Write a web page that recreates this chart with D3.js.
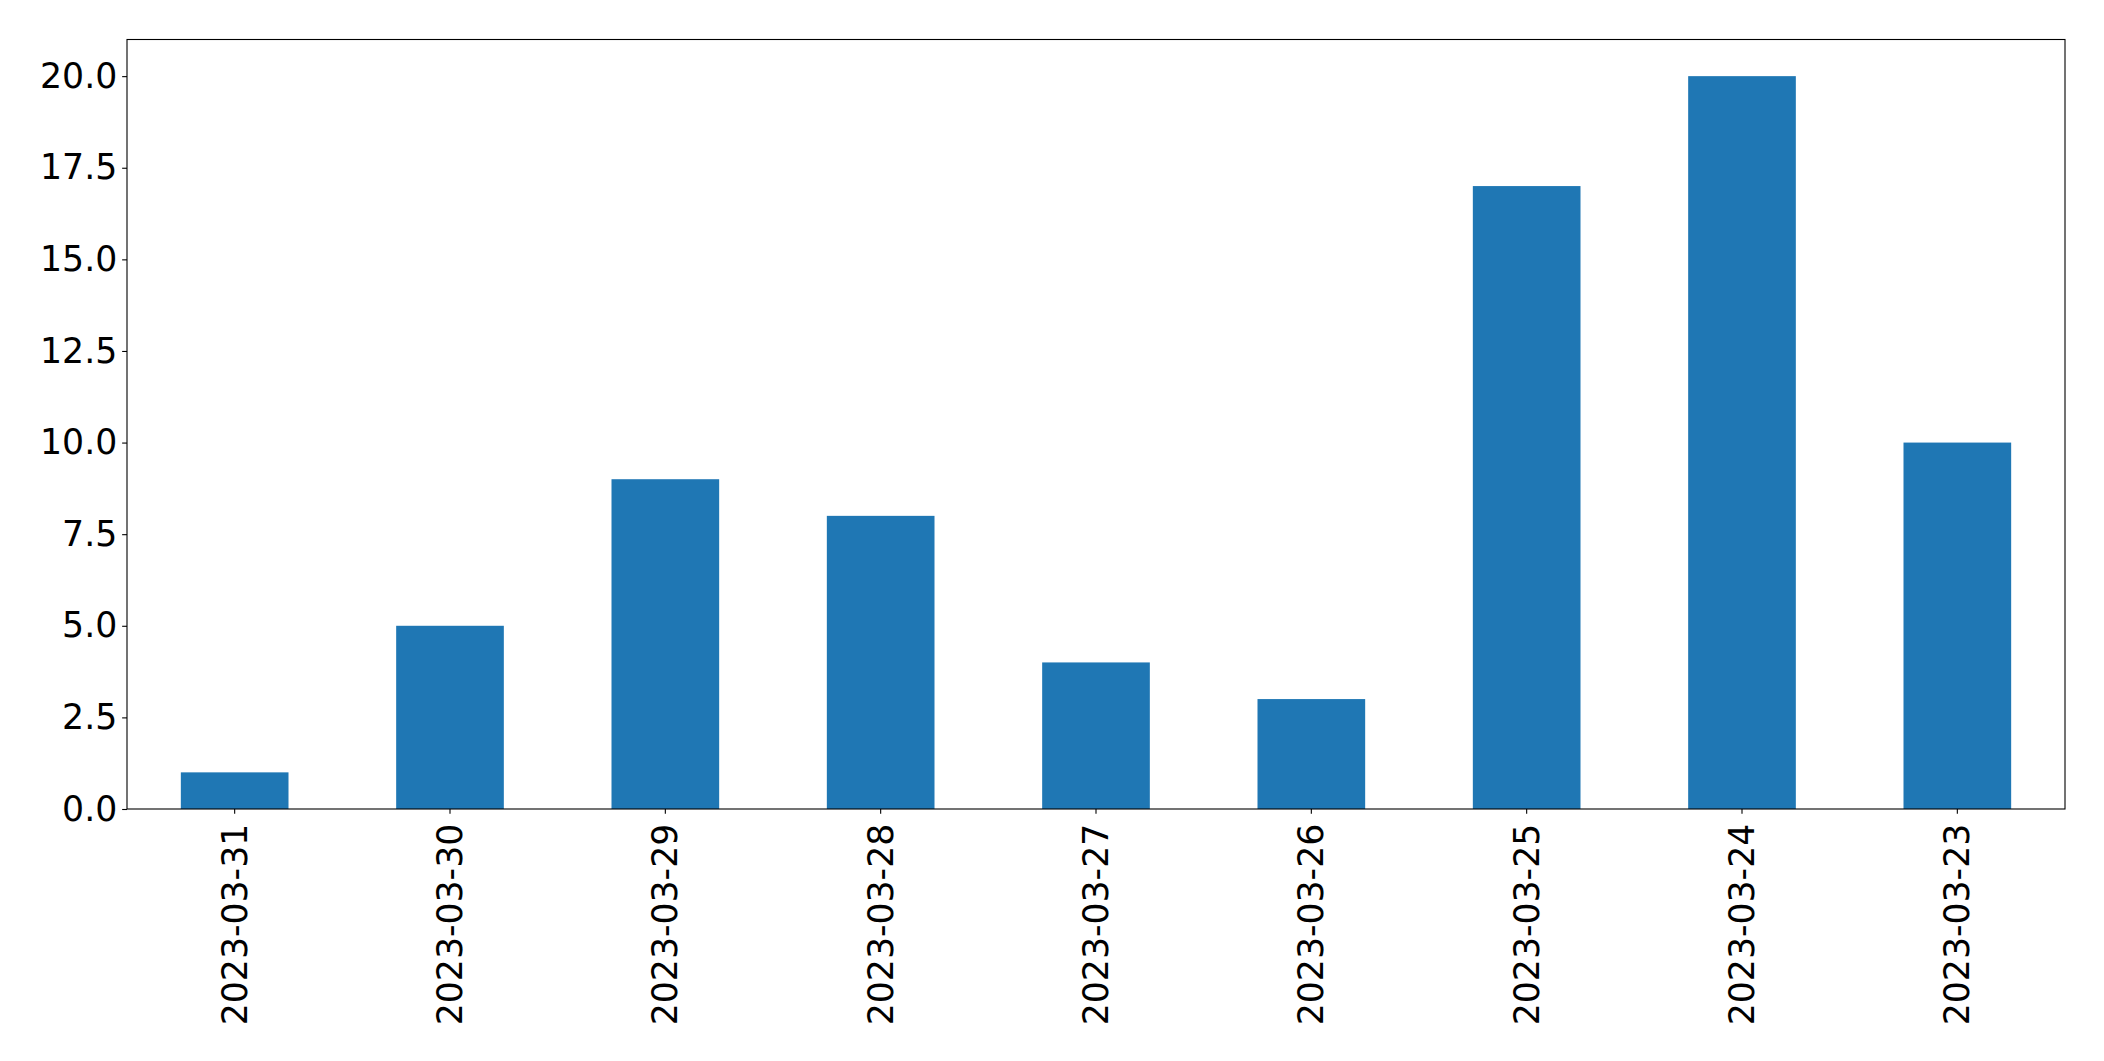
<!DOCTYPE html>
<html><head><meta charset="utf-8">
<script src="https://cdn.jsdelivr.net/npm/d3@7"></script>
<style>html,body{margin:0;padding:0;background:#fff;}svg{display:block;}</style>
</head><body>
<script>
const categories = ["2023-03-31","2023-03-30","2023-03-29","2023-03-28","2023-03-27","2023-03-26","2023-03-25","2023-03-24","2023-03-23"];
const values = [1,5,9,8,4,3,17,20,10];
const yTicks = [0,2.5,5,7.5,10,12.5,15,17.5,20];

const W = 2104, H = 1061;
const m = {left:127, right:2065, top:39.5, bottom:809};
const svg = d3.select("body").append("svg").attr("width",W).attr("height",H);
const x = d3.scaleBand().domain(categories).range([m.left,m.right]).paddingInner(0.5).paddingOuter(0.25);
const y = d3.scaleLinear().domain([0,21]).range([m.bottom,m.top]);

svg.append("g").selectAll("rect").data(values).join("rect")
  .attr("x",(d,i)=>x(categories[i])).attr("width",x.bandwidth())
  .attr("y",d=>y(d)).attr("height",d=>y(0)-y(d)).attr("fill","#1f77b4");

const font = "DejaVu Sans";
const fs = 34.7;
const yAxis = svg.append("g").attr("transform",`translate(${m.left},0)`)
  .call(d3.axisLeft(y).tickValues(yTicks).tickFormat(d3.format(".1f")).tickSize(4.86).tickPadding(4.86));
const xAxis = svg.append("g").attr("transform",`translate(0,${m.bottom})`)
  .call(d3.axisBottom(x).tickSize(4.86).tickPadding(4.86));
[yAxis,xAxis].forEach(a=>{
  a.select(".domain").remove();
  a.selectAll("line").attr("stroke","#000").attr("stroke-width",1.1);
  a.selectAll("text").attr("font-family",font).attr("font-size",fs).attr("fill","#000");
});
xAxis.selectAll("text")
  .attr("transform","rotate(-90)")
  .attr("text-anchor","end").attr("dy","0.35em")
  .attr("x",-(4.86+4.86+5)).attr("y",0);

svg.append("rect").attr("x",m.left).attr("y",m.top).attr("width",m.right-m.left).attr("height",m.bottom-m.top)
  .attr("fill","none").attr("stroke","#000").attr("stroke-width",1.1);
</script>
</body></html>
